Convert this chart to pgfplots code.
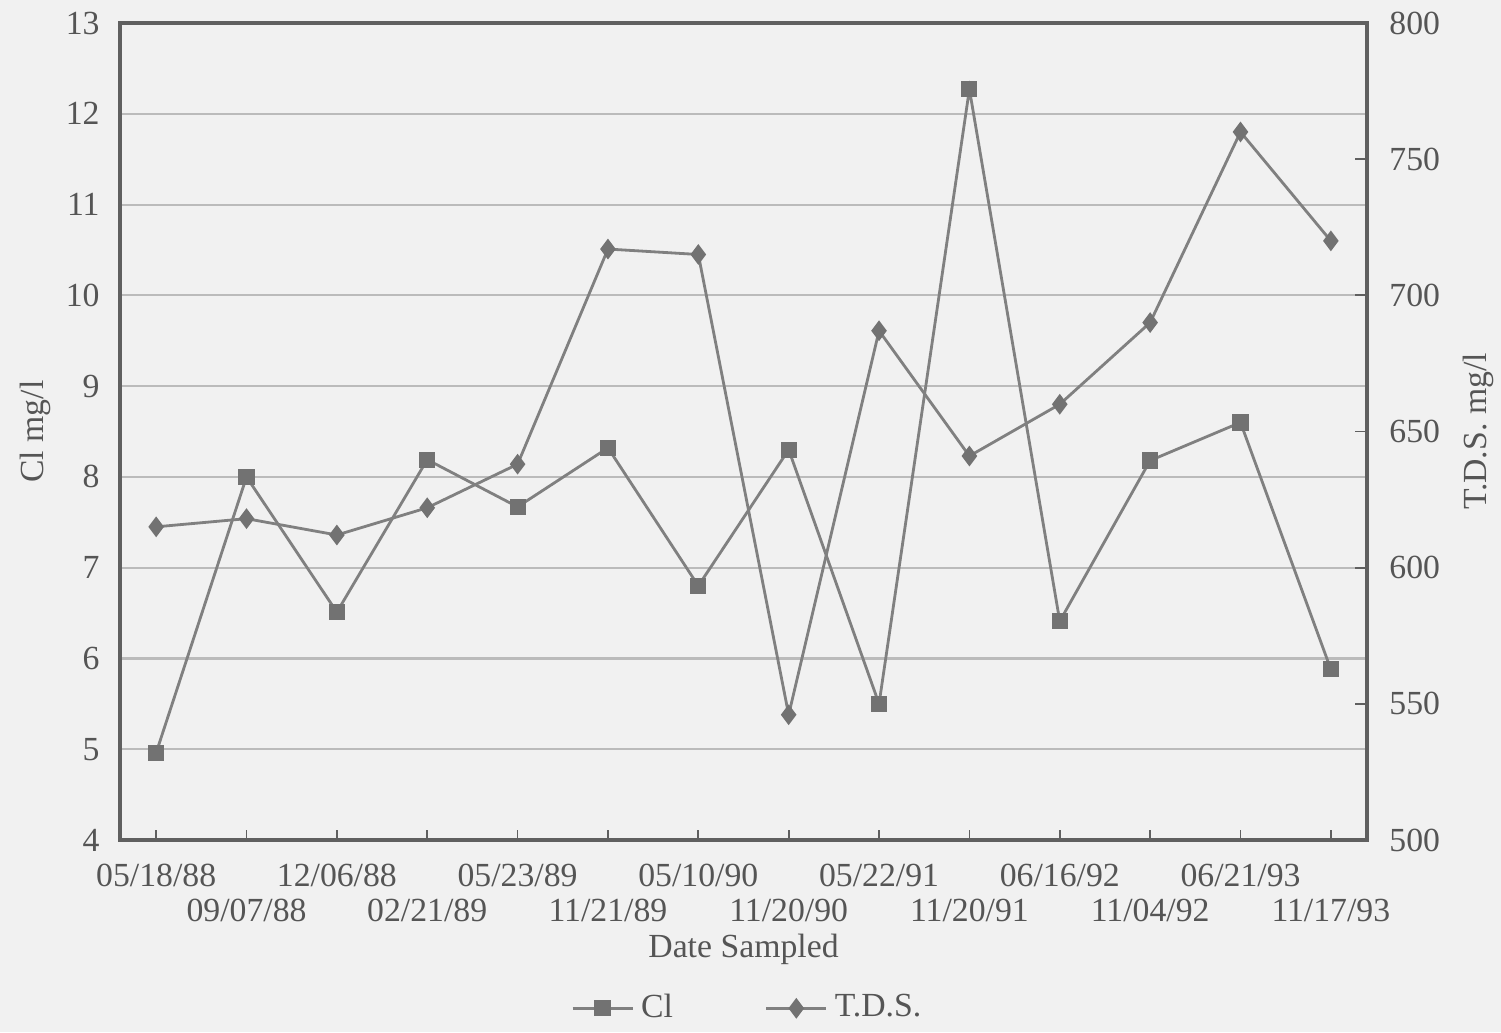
\documentclass[border=0pt]{standalone}
\usepackage{pgfplots}
\pgfplotsset{compat=1.18}
\usepackage{fontspec}
\setmainfont{Liberation Serif}
\definecolor{bg}{HTML}{F1F1F1}
\definecolor{ln}{HTML}{808080}
\definecolor{mk}{HTML}{727272}
\definecolor{gr}{HTML}{BBBBBB}
\definecolor{ax}{HTML}{606060}
\definecolor{tx}{HTML}{555555}
\pgfplotstableread{
x cl tds
0 4.96 615
1 8.00 618
2 6.51 612
3 8.19 622
4 7.67 638
5 8.32 717
6 6.80 715
7 8.30 546
8 5.50 687
9 12.27 641
10 6.41 660
11 8.18 690
12 8.60 760
13 5.88 720
}\datatable
\begin{document}
\begin{tikzpicture}[font=\fontsize{9.6}{10}\selectfont]
\path[use as bounding box, fill=bg] (-1.20,-1.92) rectangle (13.81,8.40);
\begin{axis}[
  at={(0,0)}, anchor=south west,
  scale only axis, width=12.47cm, height=8.17cm,
  xmin=-0.4, xmax=13.4, ymin=4, ymax=13,
  axis line style={ax, line width=0.9pt},
  xtick={0,...,13},
  xticklabels={05/18/88,{\strut\\09/07/88},12/06/88,{\strut\\02/21/89},05/23/89,{\strut\\11/21/89},05/10/90,{\strut\\11/20/90},05/22/91,{\strut\\11/20/91},06/16/92,{\strut\\11/04/92},06/21/93,{\strut\\11/17/93}},
  xticklabel style={align=center, text=tx, font=\fontsize{9.6}{9.6}\selectfont, yshift=-0.12cm},
  xtick pos=bottom, tick align=inside, major tick length=0.1cm,
  xtick style={ax, line width=0.5pt},
  ytick={4,...,13},
  ytick style={draw=none},
  yticklabel style={text=tx, xshift=-0.08cm},
  ymajorgrids, grid style={gr, line width=0.6pt},
  /pgf/number format/assume math mode=true,
  xlabel={Date Sampled},
  xlabel style={at={(axis description cs:0.5,-0.134)}, anchor=center, text=tx},
  ylabel={Cl mg/l},
  ylabel style={at={(axis description cs:-0.068,0.5)}, anchor=center, text=tx},
  legend style={at={(axis description cs:0.505,-0.206)}, anchor=center, draw=none, fill=none, text=tx,
    legend columns=2, /tikz/every even column/.append style={column sep=0.85cm}},
  legend cell align=left,
]
\addplot[ln, line width=0.8pt, mark=square*, mark size=1.9pt, mark options={fill=mk, draw=mk}] table[x=x, y=cl] {\datatable};
\addlegendentry{Cl}
\addlegendimage{ln, line width=0.8pt, mark=diamond*, mark size=2.3pt, mark options={fill=mk, draw=mk}}
\addlegendentry{T.D.S.}
\end{axis}
\begin{axis}[
  at={(0,0)}, anchor=south west,
  scale only axis, width=12.47cm, height=8.17cm,
  xmin=-0.4, xmax=13.4, ymin=500, ymax=800,
  axis x line=none,
  axis y line*=right,
  axis line style={ax, line width=0.9pt},
  ytick={500,550,...,800},
  tick align=inside, major tick length=0.12cm,
  ytick style={ax, line width=0.5pt},
  yticklabel style={text=tx, xshift=0.1cm},
  /pgf/number format/assume math mode=true,
  ylabel={T.D.S. mg/l},
  ylabel style={at={(axis description cs:1.089,0.5)}, anchor=center, text=tx},
]
\addplot[ln, line width=0.8pt, mark=diamond*, mark size=2.3pt, mark options={fill=mk, draw=mk}] table[x=x, y=tds] {\datatable};
\end{axis}
\end{tikzpicture}
\end{document}
